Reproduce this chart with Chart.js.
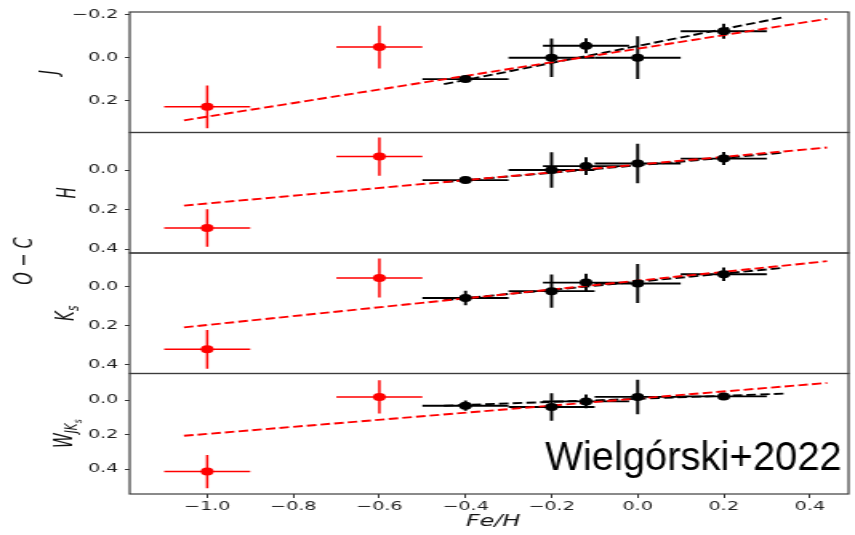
<!DOCTYPE html>
<html>
<head>
<meta charset="utf-8">
<script src="https://cdn.jsdelivr.net/npm/chart.js@4/dist/chart.umd.min.js"></script>
<style>
  html, body { margin: 0; padding: 0; background: #fff; overflow: hidden; }
  #wrap { position: absolute; left: 0; top: 0; width: 534px; height: 535px;
          transform: scale(1.6011, 1); transform-origin: 0 0; }
</style>
</head>
<body>
<div id="wrap"><canvas id="c" width="534" height="535" style="width:534px;height:535px"></canvas></div>
<script>
// [Fe/H] of the two groups, same in every panel
const redFeH = [-1.0, -0.6];
const blackFeH = [-0.4, -0.2, -0.12, 0.0, 0.2];
const feHErr = 0.1;

// O-C per band
const redJ = [0.23, -0.05];
const redJErr = [0.1, 0.1];
const blackJ = [0.10, 0.0, -0.056, 0.0, -0.124];
const blackJErr = [0.012, 0.09, 0.035, 0.1, 0.035];

const redH = [0.293, -0.068];
const redHErr = [0.095, 0.097];
const blackH = [0.051, 0.0, -0.02, -0.033, -0.058];
const blackHErr = [0.012, 0.09, 0.045, 0.1, 0.033];

const redK = [0.321, -0.046];
const redKErr = [0.1, 0.1];
const blackK = [0.057, 0.022, -0.022, -0.017, -0.065];
const blackKErr = [0.037, 0.085, 0.045, 0.1, 0.035];

const redW = [0.414, -0.02];
const redWErr = [0.097, 0.097];
const blackW = [0.031, 0.039, 0.006, -0.02, -0.023];
const blackWErr = [0.03, 0.08, 0.04, 0.1, 0.015];

// fitted lines (end points)
const redFitFeH = [-1.054, 0.44];
const blackFitFeH = [-0.45, 0.34];
const redFitJ = [0.293, -0.182];
const blackFitJ = [0.124, -0.19];
const redFitH = [0.18, -0.114];
const blackFitH = [0.061, -0.088];
const redFitK = [0.208, -0.132];
const blackFitK = [0.068, -0.098];
const redFitW = [0.206, -0.101];
const blackFitW = [0.031, -0.039];

// ticks
const xTicks = [-1.0, -0.8, -0.6, -0.4, -0.2, 0.0, 0.2, 0.4];
const yTicksJ = [-0.2, 0.0, 0.2];
const yTicksOther = [0.0, 0.2, 0.4];

const SX = 855 / 534;
const RED = '#ff0000';
const FONT = '"DejaVu Sans", sans-serif';

const fmt = v => (v < -1e-9 ? '\u2212' + Math.abs(v).toFixed(1) : Math.abs(v).toFixed(1));
const pts = (xs, ys) => xs.map((x, i) => ({ x: x, y: ys[i] }));

const panels = [
  { id: 'yJ', red: redJ, redErr: redJErr, black: blackJ, blackErr: blackJErr, rf: redFitJ, bf: blackFitJ,
    min: -0.214, max: 0.35, ticks: yTicksJ, label: [['J', 15, 0]], lx: 35.5 },
  { id: 'yH', red: redH, redErr: redHErr, black: blackH, blackErr: blackHErr, rf: redFitH, bf: blackFitH,
    min: -0.19, max: 0.42, ticks: yTicksOther, label: [['H', 15, 0]], lx: 46.5 },
  { id: 'yK', red: redK, redErr: redKErr, black: blackK, blackErr: blackKErr, rf: redFitK, bf: blackFitK,
    min: -0.174, max: 0.445, ticks: yTicksOther, label: [['K', 15, 0], ['s', 10.5, 3]], lx: 46 },
  { id: 'yW', red: redW, redErr: redWErr, black: blackW, blackErr: blackWErr, rf: redFitW, bf: blackFitW,
    min: -0.156, max: 0.544, ticks: yTicksOther, label: [['W', 15, 0], ['JK', 10.5, 3], ['s', 7.5, 6]], lx: 45 }
];

const datasets = [];
const scales = {
  x: {
    type: 'linear', position: 'bottom', min: -1.18, max: 0.49,
    afterBuildTicks: s => { s.ticks = xTicks.map(v => ({ value: v })); },
    afterFit: s => { s.height = 41; },
    ticks: { callback: v => fmt(v), autoSkip: false, maxRotation: 0, padding: 2,
             color: '#1e1e1e', font: { family: FONT, size: 12 } },
    grid: { drawOnChartArea: false, drawTicks: true, tickLength: 4, tickColor: '#333', tickWidth: 1 },
    border: { display: false }
  }
};

panels.forEach((p, k) => {
  scales[p.id] = {
    type: 'linear', position: 'left', stack: 'panels', stackWeight: 1, weight: 4 - k,
    reverse: true, min: p.min, max: p.max,
    afterBuildTicks: s => { s.ticks = p.ticks.map(v => ({ value: v })); },
    afterFit: s => { s.width = 81; },
    ticks: { callback: v => fmt(v), autoSkip: false, padding: 4,
             color: '#1e1e1e', font: { family: FONT, size: 12 } },
    grid: { drawOnChartArea: false, drawTicks: true, tickLength: 3, tickColor: '#333', tickWidth: 1 },
    border: { display: false }
  };
  datasets.push({
    data: pts(redFitFeH, p.rf), yAxisID: p.id, showLine: true, pointRadius: 0,
    borderColor: RED, borderWidth: 1.9, borderDash: [6, 2.6], order: 2
  });
  datasets.push({
    data: pts(blackFitFeH, p.bf), yAxisID: p.id, showLine: true, pointRadius: 0,
    borderColor: '#000', borderWidth: 1.9, borderDash: [6, 2.6], order: 3
  });
  datasets.push({
    data: pts(redFeH, p.red), yAxisID: p.id, pointRadius: 4, pointBackgroundColor: RED,
    pointBorderWidth: 0, xErr: feHErr, yErr: p.redErr, errColor: RED, errWidth: 1.5, order: 1
  });
  datasets.push({
    data: pts(blackFeH, p.black), yAxisID: p.id, pointRadius: 4, pointBackgroundColor: '#000',
    pointBorderWidth: 0, xErr: feHErr, yErr: p.blackErr, errColor: '#000', errWidth: 1.9, order: 0
  });
});

function drawRotLabel(ctx, pieces, bx, cy) {
  let total = 0;
  pieces.forEach(p => { ctx.font = 'italic ' + p[1] + 'px ' + FONT; total += ctx.measureText(p[0]).width; });
  ctx.save();
  ctx.translate(bx, cy);
  ctx.rotate(-Math.PI / 2);
  ctx.textAlign = 'left';
  ctx.textBaseline = 'alphabetic';
  ctx.fillStyle = '#111';
  let x = -total / 2;
  pieces.forEach(p => {
    ctx.font = 'italic ' + p[1] + 'px ' + FONT;
    ctx.fillText(p[0], x, p[2]);
    x += ctx.measureText(p[0]).width;
  });
  ctx.restore();
}

const errorBars = {
  id: 'errorBars',
  beforeDatasetsDraw(chart) {
    const ctx = chart.ctx;
    const xs = chart.scales.x;
    chart.data.datasets.forEach(ds => {
      if (!ds.yErr) return;
      const ys = chart.scales[ds.yAxisID];
      ctx.save();
      ctx.strokeStyle = ds.errColor;
      ctx.lineWidth = ds.errWidth;
      ds.data.forEach((d, j) => {
        const py = ys.getPixelForValue(d.y);
        const px = xs.getPixelForValue(d.x);
        ctx.beginPath();
        ctx.moveTo(xs.getPixelForValue(d.x - ds.xErr), py);
        ctx.lineTo(xs.getPixelForValue(d.x + ds.xErr), py);
        ctx.moveTo(px, ys.getPixelForValue(d.y - ds.yErr[j]));
        ctx.lineTo(px, ys.getPixelForValue(d.y + ds.yErr[j]));
        ctx.stroke();
      });
      ctx.restore();
    });
  }
};

const frames = {
  id: 'frames',
  afterDraw(chart) {
    const ctx = chart.ctx;
    const a = chart.chartArea;
    ctx.save();
    ctx.strokeStyle = '#3c3c3c';
    ctx.lineWidth = 1.2;
    panels.forEach(p => {
      const s = chart.scales[p.id];
      ctx.strokeRect(a.left, s.top, a.right - a.left, s.bottom - s.top);
      drawRotLabel(ctx, p.label, p.lx, (s.top + s.bottom) / 2);
    });
    // common y label
    ctx.save();
    ctx.translate(19.8, 261);
    ctx.rotate(-Math.PI / 2);
    ctx.font = 'italic 16px ' + FONT;
    ctx.textAlign = 'center';
    ctx.textBaseline = 'alphabetic';
    ctx.fillStyle = '#111';
    ctx.fillText('O \u2212 C', 0, 0);
    ctx.restore();
    // x label
    ctx.font = 'italic 15px ' + FONT;
    ctx.textAlign = 'center';
    ctx.textBaseline = 'alphabetic';
    ctx.fillStyle = '#111';
    ctx.fillText('Fe/H', 308, 526);
    // annotation, drawn unstretched
    ctx.save();
    ctx.scale(1 / SX, 1);
    ctx.font = '40px "Liberation Sans", Arial, sans-serif';
    ctx.textAlign = 'left';
    ctx.fillStyle = '#000';
    ctx.fillText('Wielg\u00f3rski+2022', 545, 470);
    ctx.restore();
    ctx.restore();
  }
};

new Chart(document.getElementById('c').getContext('2d'), {
  type: 'scatter',
  data: { datasets: datasets },
  options: {
    responsive: false,
    devicePixelRatio: 1,
    animation: false,
    layout: { padding: { top: 12, right: 2, left: 0, bottom: 0 } },
    plugins: { legend: { display: false }, tooltip: { enabled: false } },
    scales: scales
  },
  plugins: [errorBars, frames]
});
</script>
</body>
</html>
